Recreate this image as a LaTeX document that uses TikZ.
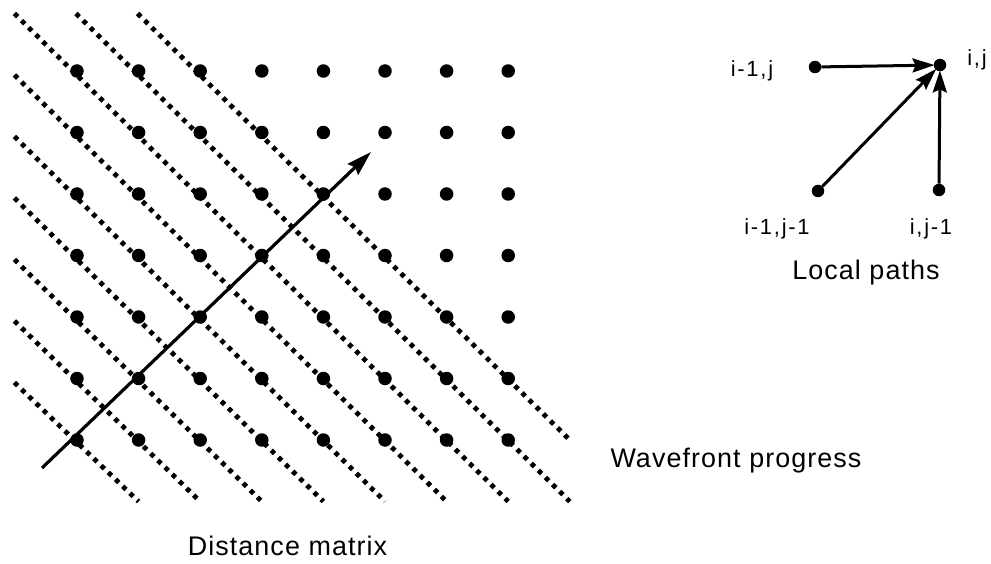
\documentclass[tikz,border=0pt]{standalone}
\usepackage{fontspec}
\setmainfont{Liberation Sans}
\usetikzlibrary{arrows.meta}
\begin{document}
\begin{tikzpicture}[x=1bp,y=-1bp,
  gdot/.style={circle,fill=black,inner sep=0pt,minimum size=13.5bp},
  pdot/.style={circle,fill=black,inner sep=0pt,minimum size=12.5bp},
  wave/.style={line width=4.8bp,dash pattern=on 4.6bp off 5.4bp},
  prog/.style={line width=3.2bp,-{Stealth[length=25bp,width=15bp,inset=3bp]}},
  lpath/.style={line width=3bp,shorten >=-1bp,-{Stealth[length=22bp,width=14bp,inset=3bp]}},
  big/.style={font=\fontsize{27}{32}\selectfont\addfontfeatures{LetterSpace=4},anchor=base,inner sep=0pt},
  small/.style={font=\fontsize{22}{26}\selectfont\addfontfeatures{LetterSpace=8},anchor=base,inner sep=0pt}]
\useasboundingbox (0,0) rectangle (991,564);
% distance matrix grid
\foreach \c in {0,...,7}
  \foreach \r in {0,...,6}
    \node[gdot] (g\c-\r) at ({77+61.6*\c},{71+61.5*\r}) {};
% wavefront lines
\foreach \k/\sc/\sr/\ec/\er in {m2/1/-1/8/6, m1/0/-1/8/7, 0/-1/-1/7/7, 1/-1/0/6/7, 2/-1/1/5/7, 3/-1/2/4/7, 4/-1/3/3/7, 5/-1/4/2/7, 6/-1/5/1/7}{
  \coordinate (ws\k) at ({77+61.6*\sc-1},{71+61.5*\sr+4});
  \coordinate (we\k) at ({77+61.6*\ec},{71+61.5*\er});
  \draw[wave] (ws\k) -- (we\k);
}
% progress arrow
\coordinate (ps) at (42,468);
\coordinate (pe) at (371,152);
\draw[prog] (ps) -- (pe);
% local paths
\node[pdot] (a) at (815,67) {};
\node[pdot] (b) at (940,65) {};
\node[pdot] (c) at (818,191) {};
\node[pdot] (d) at (939,190) {};
\draw[lpath] (a) -- (b);
\draw[lpath] (c) -- (b);
\draw[lpath] (d) -- (b);
\node[small] (la) at (752,77) {i-1,j};
\node[small] (lb) at (977,66) {i,j};
\node[small] (lc) at (777,235) {i-1,j-1};
\node[small] (ld) at (931,235) {i,j-1};
% captions
\node[big] (cap1) at (866,280) {Local paths};
\node[big] (cap2) at (736,467) {Wavefront progress};
\node[big] (cap3) at (287.5,555) {Distance matrix};
\end{tikzpicture}
\end{document}
